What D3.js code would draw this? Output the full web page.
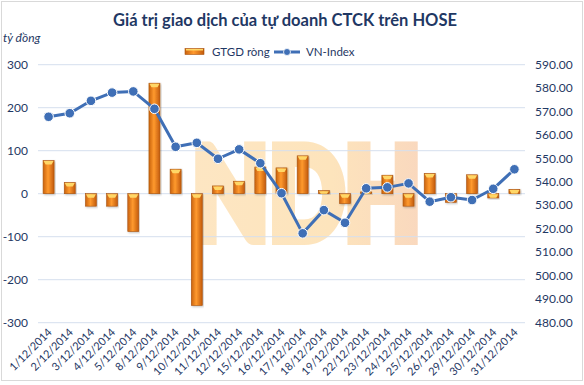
<!DOCTYPE html>
<html>
<head>
<meta charset="utf-8">
<script src="https://cdn.jsdelivr.net/npm/d3@7"></script>
<style>
  body { margin: 0; background: #fff; }
  text { font-family: Lato, "Open Sans", sans-serif; }
</style>
</head>
<body>
<div id="chart"></div>
<script>
const dates = ["1/12/2014", "2/12/2014", "3/12/2014", "4/12/2014", "5/12/2014", "8/12/2014",
  "9/12/2014", "10/12/2014", "11/12/2014", "12/12/2014", "15/12/2014", "16/12/2014",
  "17/12/2014", "18/12/2014", "19/12/2014", "22/12/2014", "23/12/2014", "24/12/2014",
  "25/12/2014", "26/12/2014", "29/12/2014", "30/12/2014", "31/12/2014"];
const netValue = [77, 26, -29, -29, -88, 257, 57, -260, 18, 29, 62, 60, 88, 7, -23, 4, 43, -29, 47, -20, 44, -10, 10];
const vnIndex = [567.8, 569.3, 574.6, 578.1, 578.6, 571.2, 555.0, 556.7, 549.9, 553.9, 548.0, 535.2,
  518.1, 528.0, 522.6, 537.3, 537.7, 539.4, 531.6, 533.5, 532.3, 537.1, 545.4];
const leftTicks = [300, 200, 100, 0, -100, -200, -300];
const rightTicks = [590, 580, 570, 560, 550, 540, 530, 520, 510, 500, 490, 480];

const width = 584, height = 385;
const navy = "#1F3864";
const blue = "#3F6FB6";

const svg = d3.select("#chart").append("svg")
  .attr("width", width)
  .attr("height", height);

const defs = svg.append("defs");
const grad = defs.append("linearGradient").attr("id", "barGrad")
  .attr("x1", "0%").attr("x2", "100%").attr("y1", "0%").attr("y2", "0%");
grad.append("stop").attr("offset", "0%").attr("stop-color", "#C9620F");
grad.append("stop").attr("offset", "45%").attr("stop-color", "#FF9A2E");
grad.append("stop").attr("offset", "100%").attr("stop-color", "#C25A0C");

const wmGrad = defs.append("linearGradient").attr("id", "wmGrad")
  .attr("gradientUnits", "userSpaceOnUse")
  .attr("x1", 185).attr("x2", 428).attr("y1", 0).attr("y2", 0);
wmGrad.append("stop").attr("offset", "0%").attr("stop-color", "#FDE6C3");
wmGrad.append("stop").attr("offset", "60%").attr("stop-color", "#FDE4BC");
wmGrad.append("stop").attr("offset", "100%").attr("stop-color", "#F9D7BE");

const shadow = defs.append("filter").attr("id", "shadow").attr("height", "150%");
shadow.append("feDropShadow")
  .attr("dx", 1).attr("dy", 1)
  .attr("flood-color", "rgba(0,0,0,0.25)")
  .attr("stdDeviation", 0.8);

// frame
svg.append("rect")
  .attr("x", 1.5).attr("y", 1.5)
  .attr("width", 581).attr("height", 379)
  .attr("fill", "none")
  .attr("stroke", "#D9D9D9");

const x = d3.scaleBand().domain(dates).range([38, 525]);
const yL = d3.scaleLinear().domain([-300, 300]).range([322.7, 64.7]);
const yR = d3.scaleLinear().domain([480, 590]).range([322.7, 64.7]);
const cx = d => x(d) + x.bandwidth() / 2;
const barW = x.bandwidth() * 0.52;

// title
svg.append("text")
  .attr("x", 285).attr("y", 26)
  .attr("text-anchor", "middle")
  .attr("font-size", 16.5)
  .attr("font-weight", "bold")
  .attr("fill", navy)
  .text("Giá trị giao dịch của tự doanh CTCK trên HOSE");

svg.append("text")
  .attr("x", 3).attr("y", 42)
  .attr("font-size", 12)
  .attr("font-style", "italic")
  .attr("fill", navy)
  .text("tỷ đồng");

// watermark
svg.append("text")
  .attr("x", 192).attr("y", 239)
  .attr("font-family", "DejaVu Sans, sans-serif")
  .attr("font-weight", "bold")
  .attr("font-size", 126)
  .attr("textLength", 229)
  .attr("lengthAdjust", "spacingAndGlyphs")
  .attr("fill", "url(#wmGrad)")
  .attr("stroke", "url(#wmGrad)")
  .attr("stroke-width", 12)
  .attr("stroke-linejoin", "miter")
  .text("NDH");

// gridlines
svg.append("g")
  .selectAll("line")
  .data(leftTicks)
  .join("line")
  .attr("x1", 38).attr("x2", 525)
  .attr("y1", d => yL(d)).attr("y2", d => yL(d))
  .attr("stroke", "#D6DFEE")
  .attr("stroke-width", 1);

// left axis labels
svg.append("g")
  .selectAll("text")
  .data(leftTicks)
  .join("text")
  .attr("x", 28).attr("y", d => yL(d) + 4)
  .attr("text-anchor", "end")
  .attr("font-size", 12)
  .attr("fill", navy)
  .text(d => String(d));

// right axis labels
svg.append("g")
  .selectAll("text")
  .data(rightTicks)
  .join("text")
  .attr("x", 535).attr("y", d => yR(d) + 4)
  .attr("font-size", 12)
  .attr("fill", navy)
  .text(d => d.toFixed(2));

// x labels
svg.append("g")
  .selectAll("text")
  .data(dates)
  .join("text")
  .attr("transform", d => `translate(${cx(d) + 4},${333}) rotate(-45)`)
  .attr("text-anchor", "end")
  .attr("font-size", 11)
  .attr("fill", navy)
  .text(d => d);

// bars
const bars = svg.append("g")
  .selectAll("g")
  .data(dates.map((d, i) => ({ date: d, v: netValue[i] })))
  .join("g");

bars.append("rect")
  .attr("x", d => cx(d.date) - barW / 2)
  .attr("y", d => yL(Math.max(0, d.v)))
  .attr("width", barW)
  .attr("height", d => Math.abs(yL(d.v) - yL(0)))
  .attr("fill", "url(#barGrad)")
  .attr("stroke", "#A9530D")
  .attr("stroke-width", 0.6)
  .attr("filter", "url(#shadow)");

bars.append("path")
  .attr("d", d => {
    const top = yL(Math.max(0, d.v));
    const h = Math.min(4, Math.abs(yL(d.v) - yL(0)));
    const l = cx(d.date) - barW / 2 + 0.5, r = cx(d.date) + barW / 2 - 0.5;
    return `M${l},${top + 0.5} L${r},${top + 0.5} L${r - 2},${top + h} L${l + 2},${top + h} Z`;
  })
  .attr("fill", "#FFD767");

// line
const line = d3.line()
  .x((d, i) => cx(dates[i]))
  .y(d => yR(d));

svg.append("path")
  .datum(vnIndex)
  .attr("d", line)
  .attr("fill", "none")
  .attr("stroke", blue)
  .attr("stroke-width", 3)
  .attr("stroke-linejoin", "round");

svg.append("g")
  .selectAll("circle")
  .data(vnIndex)
  .join("circle")
  .attr("cx", (d, i) => cx(dates[i]))
  .attr("cy", d => yR(d))
  .attr("r", 4.8)
  .attr("fill", blue)
  .attr("stroke", "#fff")
  .attr("stroke-width", 1);

// legend
const lg = svg.append("g");
lg.append("rect")
  .attr("x", 185).attr("y", 48.5)
  .attr("width", 19).attr("height", 6)
  .attr("fill", "url(#barGrad)")
  .attr("stroke", "#A9530D")
  .attr("stroke-width", 0.6);
lg.append("rect")
  .attr("x", 186).attr("y", 49)
  .attr("width", 17).attr("height", 1.5)
  .attr("fill", "#FFD767");
lg.append("text")
  .attr("x", 212).attr("y", 56)
  .attr("font-size", 11.5)
  .attr("fill", navy)
  .text("GTGD ròng");
lg.append("line")
  .attr("x1", 274).attr("x2", 300)
  .attr("y1", 52).attr("y2", 52)
  .attr("stroke", blue)
  .attr("stroke-width", 3);
lg.append("circle")
  .attr("cx", 287).attr("cy", 52)
  .attr("r", 3.5)
  .attr("fill", blue)
  .attr("stroke", "#fff")
  .attr("stroke-width", 0.8);
lg.append("text")
  .attr("x", 306).attr("y", 56)
  .attr("font-size", 11.5)
  .attr("fill", navy)
  .text("VN-Index");
</script>
</body>
</html>
